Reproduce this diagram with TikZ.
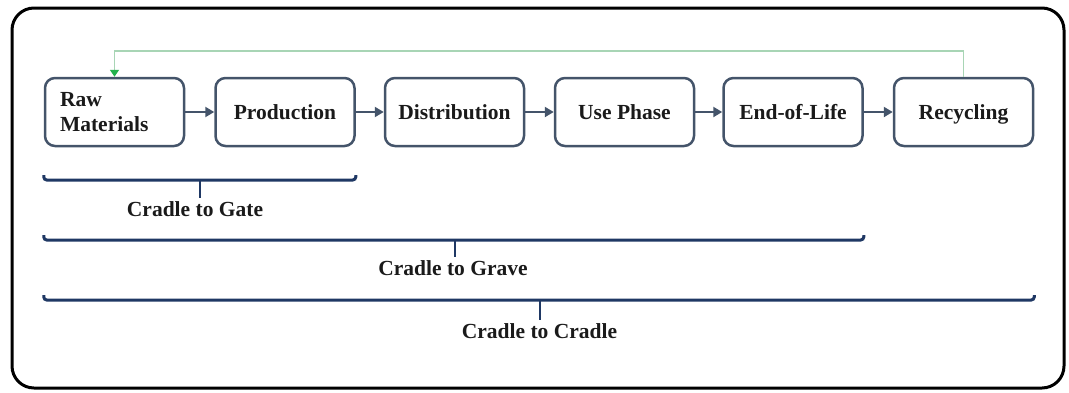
\documentclass[tikz,border=0pt]{standalone}
\usepackage{fontspec}
\setmainfont{LiberationSerif}[Extension=.ttf, UprightFont=*-Regular,
  BoldFont=*-Bold, ItalicFont=*-Italic, BoldItalicFont=*-BoldItalic]
\usetikzlibrary{arrows.meta,calc}

\definecolor{boxline}{HTML}{44546A}
\definecolor{bracketblue}{HTML}{1F3864}
\definecolor{loopgreen}{HTML}{A8D5B5}
\definecolor{loopgreentip}{HTML}{22B14C}
\definecolor{ink}{HTML}{1A1A1A}

\tikzset{
  stage/.style={draw=boxline, line width=2.5pt, rounded corners=10pt,
    minimum width=139pt, minimum height=68pt, inner sep=0pt,
    font=\bfseries\fontsize{21.5}{25.5}\selectfont, text=ink},
  stagetext/.style={stage, text height=15pt, text depth=0pt},
  flow/.style={draw=boxline, line width=2.5pt,
    -{Triangle[length=9pt,width=10pt]}},
  loop/.style={draw=loopgreen, line width=1.6pt,
    -{Triangle[length=7pt,width=9pt,color=loopgreentip]}},
  bracket/.style={draw=bracketblue, line width=3pt, rounded corners=3pt},
  stem/.style={draw=bracketblue, line width=2.5pt},
  scopelabel/.style={font=\bfseries\fontsize{21.5}{25.5}\selectfont,
    text=ink, inner sep=3pt, anchor=base},
}

\begin{document}
\begin{tikzpicture}[x=1pt, y=-1pt]
  \useasboundingbox (0,0) rectangle (1069,392);

  % outer frame
  \draw[line width=3pt, rounded corners=22pt] (12,8) rectangle (1064,388);

  % life-cycle stages
  \node[stage, text width=109pt, align=left, inner xsep=15pt] (raw) at (114.5,112) {Raw\\Materials};
  \node[stagetext] (prod) at (285,112) {Production};
  \node[stagetext] (dist) at (454.5,112) {Distribution};
  \node[stagetext] (use)  at (624.5,112) {Use Phase};
  \node[stagetext] (eol)  at (793,112) {End-of-Life};
  \node[stagetext] (rec)  at (963.5,112) {Recycling};

  % stage-to-stage flow
  \draw[flow] (raw) -- (prod);
  \draw[flow] (prod) -- (dist);
  \draw[flow] (dist) -- (use);
  \draw[flow] (use) -- (eol);
  \draw[flow] (eol) -- (rec);

  % recycling loop back to raw materials
  \draw[loop] (rec.north) -- ++(0,-26) -| (raw.north);

  % scope labels
  \node[scopelabel] (gate)   at (195,216)   {Cradle to Gate};
  \node[scopelabel] (grave)  at (453,275)   {Cradle to Grave};
  \node[scopelabel] (cradle) at (539.5,338) {Cradle to Cradle};

  % scope brackets
  \coordinate (gatemid)   at (200,180);
  \coordinate (gravemid)  at (455,240);
  \coordinate (cradlemid) at (540,300);

  \draw[bracket] ($(raw.west |- gatemid)+(0,-5)$) -- (raw.west |- gatemid)
     -- (prod.east |- gatemid) -- ++(0,-5);
  \draw[stem] (gatemid) -- (gatemid |- gate.north);

  \draw[bracket] ($(raw.west |- gravemid)+(0,-5)$) -- (raw.west |- gravemid)
     -- (eol.east |- gravemid) -- ++(0,-5);
  \draw[stem] (gravemid) -- (gravemid |- grave.north);

  \draw[bracket] ($(raw.west |- cradlemid)+(0,-5)$) -- (raw.west |- cradlemid)
     -- (rec.east |- cradlemid) -- ++(0,-5);
  \draw[stem] (cradlemid) -- (cradlemid |- cradle.north);
\end{tikzpicture}
\end{document}
